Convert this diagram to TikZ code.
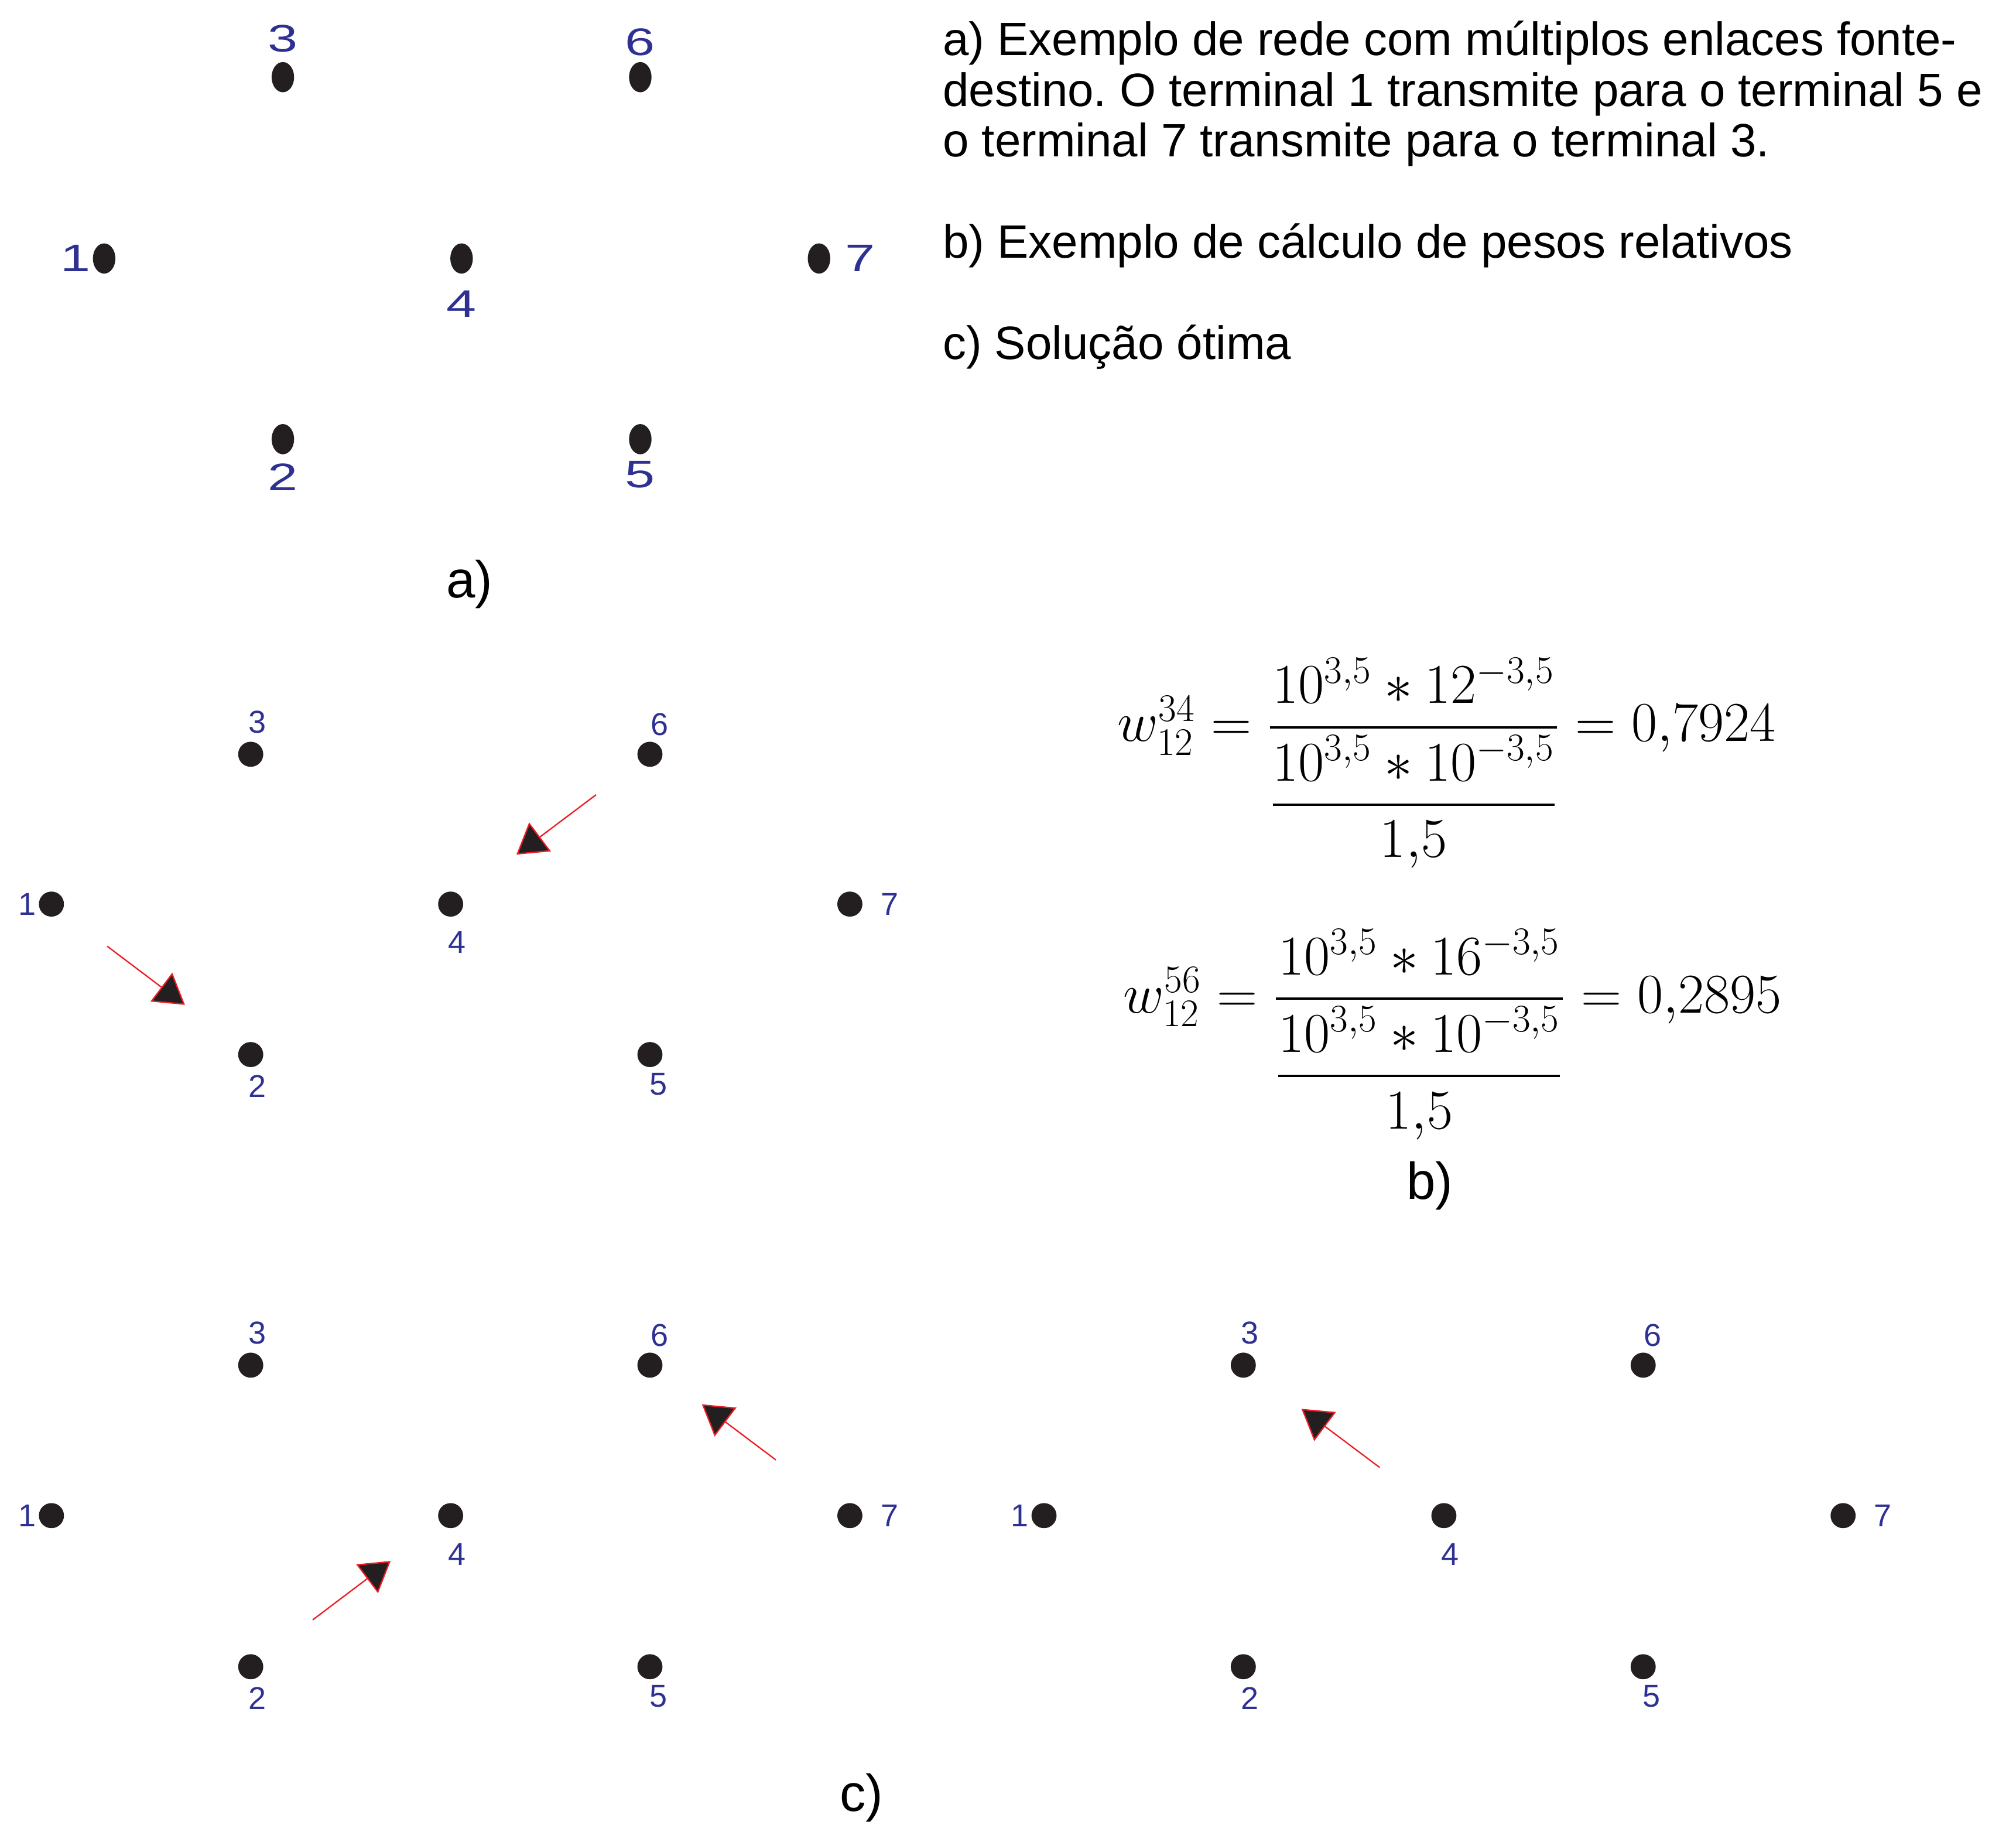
\documentclass[tikz,border=0pt]{standalone}
\usepackage{amsmath}
\usepackage{graphicx}
\usepackage{fontspec}
\usepackage{xcolor}
\usepackage{tikz}
\usetikzlibrary{arrows.meta, positioning, calc, shapes.geometric}

\newfontfamily\arial{Liberation Sans}
\newcommand{\widenum}[1]{\scalebox{1.4}[1]{#1}}
\definecolor{netblue}{RGB}{46,49,146}
\definecolor{dotgray}{RGB}{35,31,32}
\definecolor{arrowred}{RGB}{237,28,36}
\frenchspacing

\begin{document}
\begin{tikzpicture}[
    dota/.style={ellipse, fill=dotgray, inner sep=0,
                 minimum width=0.35cm, minimum height=0.47cm},
    dotb/.style={circle, fill=dotgray, inner sep=0, minimum size=0.39cm},
    lbla/.style={text=netblue, inner sep=0, font=\arial\fontsize{17}{20}\selectfont},
    lblb/.style={text=netblue, inner sep=0, font=\arial\fontsize{14}{17}\selectfont},
    flow/.style={draw=arrowred, line width=0.6pt,
                 -{Triangle[length=4.6mm, width=5.6mm, fill=dotgray]}},
    panel/.style={inner sep=0, font=\arial\fontsize{23}{27}\selectfont},
    note/.style={inner sep=0, align=left, font=\arial\fontsize{20.7}{22.4}\selectfont},
    formula/.style={inner sep=0, font=\fontsize{24}{28}\selectfont}
  ]
  \useasboundingbox (0,0) rectangle (31.36,-28.38);

  % a) network
  \node[dota] (a1) at (1.62,-4.02) {};
  \node[dota] (a2) at (4.40,-6.83) {};
  \node[dota] (a3) at (4.40,-1.20) {};
  \node[dota] (a4) at (7.18,-4.02) {};
  \node[dota] (a5) at (9.96,-6.83) {};
  \node[dota] (a6) at (9.96,-1.20) {};
  \node[dota] (a7) at (12.74,-4.02) {};
  \node[lbla, left=0.02cm of a1]  (la1) {\widenum{1}};
  \node[lbla, below=0.13cm of a2] (la2) {\widenum{2}};
  \node[lbla, above=0.14cm of a3] (la3) {\widenum{3}};
  \node[lbla, below=0.25cm of a4] (la4) {\widenum{4}};
  \node[lbla, below=0.09cm of a5] (la5) {\widenum{5}};
  \node[lbla, above=0.08cm of a6] (la6) {\widenum{6}};
  \node[lbla, right=0.22cm of a7] (la7) {\widenum{7}};
  \node[panel] (pa) at (7.30,-9.09) {a)};

  \node[note, anchor=north west] (notes) at (14.66,-0.32)
    {a) Exemplo de rede com múltiplos enlaces fonte-\\
     destino. O terminal 1 transmite para o terminal 5 e\\
     o terminal 7 transmite para o terminal 3.\\[22.4pt]
     b) Exemplo de cálculo de pesos relativos\\[22.4pt]
     c) Solução ótima};

  % b) relative weights
  \node[dotb] (b1) at (0.80,-14.06) {};
  \node[dotb] (b2) at (3.90,-16.40) {};
  \node[dotb] (b3) at (3.90,-11.73) {};
  \node[dotb] (b4) at (7.01,-14.06) {};
  \node[dotb] (b5) at (10.11,-16.40) {};
  \node[dotb] (b6) at (10.11,-11.73) {};
  \node[dotb] (b7) at (13.22,-14.06) {};
  \node[lblb, left=0.03cm of b1] (lb1) {1};
  \node[lblb, below=0.11cm of b2, xshift=0.1cm] (lb2) {2};
  \node[lblb, above=0.12cm of b3, xshift=0.1cm] (lb3) {3};
  \node[lblb, below=0.22cm of b4, xshift=0.1cm] (lb4) {4};
  \node[lblb, below=0.08cm of b5, xshift=0.13cm] (lb5) {5};
  \node[lblb, above=0.08cm of b6, xshift=0.15cm] (lb6) {6};
  \node[lblb, right=0.27cm of b7] (lb7) {7};
  \draw[flow] ($(b1)!0.28!(b2)$) -- ($(b1)!0.67!(b2)$);
  \draw[flow] ($(b6)!0.27!(b4)$) -- ($(b6)!0.67!(b4)$);

  \node[formula, anchor=base west] (w34) at (17.38,-11.53)
    {$w_{12}^{34} = \dfrac{10^{3{,}5} \ast 12^{-3{,}5}}{\dfrac{10^{3{,}5} \ast 10^{-3{,}5}}{1{,}5}} = 0{,}7924$};
  \node[formula, anchor=base west] (w56) at (17.47,-15.75)
    {$w_{12}^{56} = \dfrac{10^{3{,}5} \ast 16^{-3{,}5}}{\dfrac{10^{3{,}5} \ast 10^{-3{,}5}}{1{,}5}} = 0{,}2895$};
  \node[panel] (pb) at (22.24,-18.44) {b)};

  % c) optimal solution, left
  \node[dotb] (c1) at (0.80,-23.57) {};
  \node[dotb] (c2) at (3.90,-25.92) {};
  \node[dotb] (c3) at (3.90,-21.23) {};
  \node[dotb] (c4) at (7.01,-23.57) {};
  \node[dotb] (c5) at (10.11,-25.92) {};
  \node[dotb] (c6) at (10.11,-21.23) {};
  \node[dotb] (c7) at (13.22,-23.57) {};
  \node[lblb, left=0.03cm of c1] (lc1) {1};
  \node[lblb, below=0.11cm of c2, xshift=0.1cm] (lc2) {2};
  \node[lblb, above=0.12cm of c3, xshift=0.1cm] (lc3) {3};
  \node[lblb, below=0.22cm of c4, xshift=0.1cm] (lc4) {4};
  \node[lblb, below=0.08cm of c5, xshift=0.13cm] (lc5) {5};
  \node[lblb, above=0.08cm of c6, xshift=0.15cm] (lc6) {6};
  \node[lblb, right=0.27cm of c7] (lc7) {7};
  \draw[flow] ($(c2)!0.31!(c4)$) -- ($(c2)!0.70!(c4)$);
  \draw[flow] ($(c7)!0.37!(c6)$) -- ($(c7)!0.74!(c6)$);

  % c) optimal solution, right
  \node[dotb] (d1) at (16.24,-23.57) {};
  \node[dotb] (d2) at (19.34,-25.92) {};
  \node[dotb] (d3) at (19.34,-21.23) {};
  \node[dotb] (d4) at (22.46,-23.57) {};
  \node[dotb] (d5) at (25.56,-25.92) {};
  \node[dotb] (d6) at (25.56,-21.23) {};
  \node[dotb] (d7) at (28.67,-23.57) {};
  \node[lblb, left=0.03cm of d1] (ld1) {1};
  \node[lblb, below=0.11cm of d2, xshift=0.1cm] (ld2) {2};
  \node[lblb, above=0.12cm of d3, xshift=0.1cm] (ld3) {3};
  \node[lblb, below=0.22cm of d4, xshift=0.1cm] (ld4) {4};
  \node[lblb, below=0.08cm of d5, xshift=0.13cm] (ld5) {5};
  \node[lblb, above=0.08cm of d6, xshift=0.15cm] (ld6) {6};
  \node[lblb, right=0.27cm of d7] (ld7) {7};
  \draw[flow] ($(d4)!0.32!(d3)$) -- ($(d4)!0.71!(d3)$);
  \node[panel] (pc) at (13.40,-27.96) {c)};
\end{tikzpicture}
\end{document}
